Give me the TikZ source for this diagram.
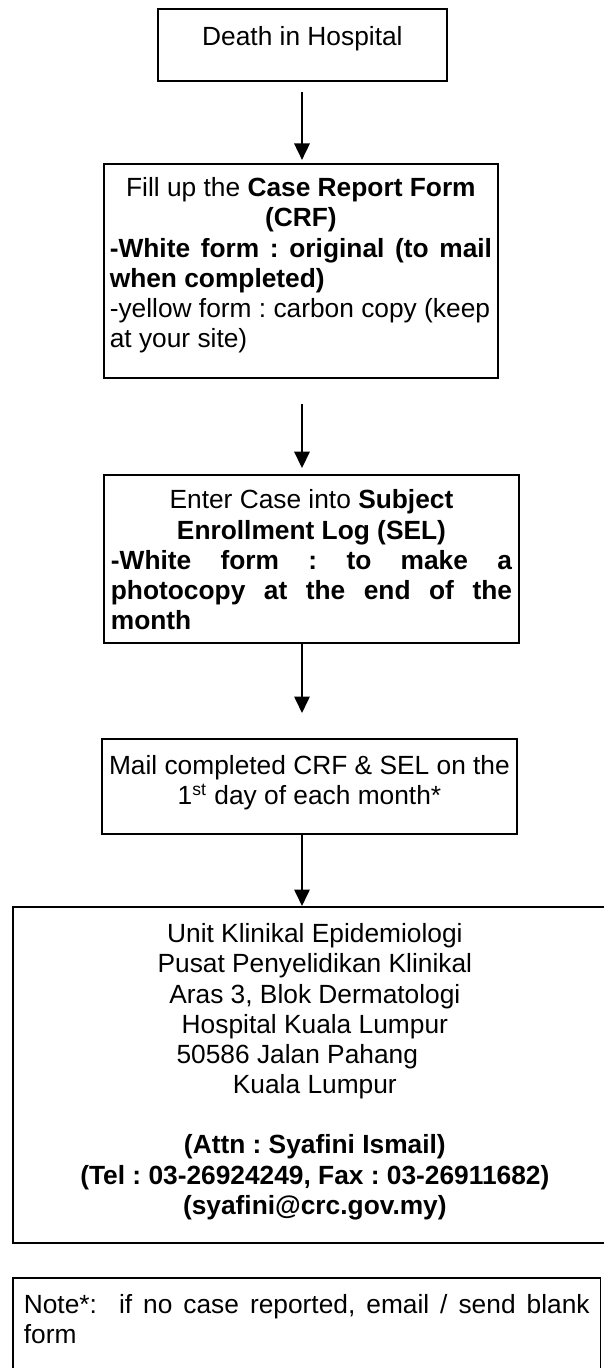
\documentclass[tikz,border=0pt]{standalone}
\usepackage{fontspec}
\setmainfont{Liberation Sans}
\usetikzlibrary{arrows.meta}
\frenchspacing
\begin{document}
\begin{tikzpicture}
[x=0.456pt,y=-0.456pt,
 ar/.style={-{Triangle[width=7pt,length=7.5pt]},line width=0.9pt},
 bx/.style={draw,line width=0.8pt,inner ysep=0pt,inner xsep=3.2pt,anchor=north west,
   font=\fontsize{12}{13.75}\selectfont}]
\useasboundingbox (0,0) rectangle (604,1368);
\clip (0,0) rectangle (604,1368);

\node [bx] at (157,8) (death) {\parbox[c][32.8pt][t]{125.4pt}{\vspace*{8pt}\centering
  Death in Hospital}};
\node [bx,inner xsep=2.7pt] at (103,163) (crf) {\parbox[c][97.6pt][t]{174.3pt}{\vspace*{6.3pt}\centering
  Fill up the \textbf{Case Report Form}\\ \textbf{(CRF)}\par
  \raggedright\makebox[\linewidth][s]{\textbf{-White form : original (to mail}}\\
  \textbf{when completed)}\\
  -yellow form : carbon copy (keep\\ at your site)}};
\node [bx] at (103,474) (sel) {\parbox[c][76.6pt][t]{182.9pt}{\vspace*{6.8pt}\centering
  Enter Case into \textbf{Subject}\\ \textbf{Enrollment Log (SEL)}\par
  \raggedright\bfseries\makebox[\linewidth][s]{-White form : to make a}\\
  \makebox[\linewidth][s]{photocopy at the end of the}\\ month}};
\node [bx] at (101,738) (mail) {\parbox[c][43.3pt][t]{182.9pt}{\vspace*{7.7pt}\centering
  Mail completed CRF \& SEL on the\\ 1\textsuperscript{st} day of each month*}};
\node [bx] at (12,906) (unit) {\parbox[c][153.2pt][t]{269pt}{\vspace*{7.7pt}\centering
  Unit Klinikal Epidemiologi\\ Pusat Penyelidikan Klinikal\\ Aras 3, Blok Dermatologi\\
  Hospital Kuala Lumpur\\ 50586 Jalan Pahang\hspace{16pt}\mbox{}\\ Kuala Lumpur\\[13.75pt]
  \textbf{(Attn : Syafini Ismail)}\\ \textbf{(Tel : 03-26924249, Fax : 03-26911682)}\\
  \textbf{(syafini@crc.gov.my)}}};
\node [bx,inner xsep=5pt] at (12,1277) (note) {\parbox[c][56pt][t]{258pt}{\vspace*{7.5pt}
  \makebox[\linewidth][s]{Note*:\ \ if no case reported, email / send blank}\\ form}};

\coordinate (ax) at (302,0);
\draw [ar,shorten <=4.6pt,shorten >=1.4pt] (death.south -| ax) -- (crf.north -| ax);
\draw [ar,shorten <=11.4pt,shorten >=2.7pt] (crf.south -| ax) -- (sel.north -| ax);
\draw [ar,shorten >=11.4pt] (sel.south -| ax) -- (mail.north -| ax);
\draw [ar] (mail.south -| ax) -- (unit.north -| ax);
\end{tikzpicture}
\end{document}
